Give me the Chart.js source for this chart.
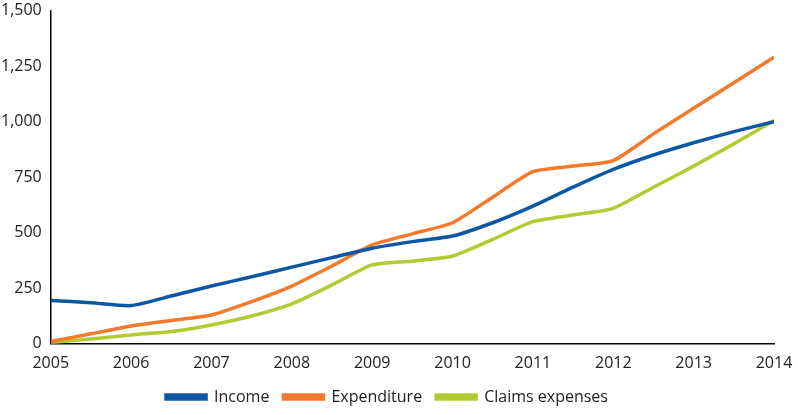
<!DOCTYPE html>
<html><head><meta charset="utf-8">
<script src="https://cdn.jsdelivr.net/npm/chart.js@4"></script>
<style>html,body{margin:0;background:#fff}#wrap{width:798px;height:415px}</style>
</head><body><div id="wrap"><canvas id="c"></canvas></div>
<script>
const YEARS = [2005,2005.5,2006,2006.5,2007,2007.5,2008,2008.5,2009,2009.5,2010,2010.5,2011,2011.5,2012,2012.5,2013,2013.5,2014];
const INCOME = [195,185,172,215,260,302,345,388,430,460,485,545,620,705,785,850,905,955,1000];
const EXPEND = [10,45,80,105,130,190,260,350,445,495,545,660,775,800,825,945,1060,1175,1290];
const CLAIMS = [5,22,40,55,85,125,180,265,355,372,395,470,550,580,610,705,800,900,1005];
const pts = arr => arr.map((v, i) => ({ x: YEARS[i], y: v }));
const line = (label, data, color) => ({ label, data: pts(data), borderColor: color, backgroundColor: color, borderWidth: 3.5, pointRadius: 0, tension: 0.2, fill: false });
Chart.defaults.font.family = "'Open Sans', sans-serif";
Chart.defaults.color = "#222";
new Chart(document.getElementById("c"), {
  type: "line",
  data: { datasets: [
    line("Income", INCOME, "#0d57a3"),
    line("Expenditure", EXPEND, "#f37a2b"),
    line("Claims expenses", CLAIMS, "#b3ca32")
  ]},
  options: {
    responsive: true, maintainAspectRatio: false, animation: false,
    layout: { padding: { top: 8, right: 24, left: 0, bottom: 0 } },
    plugins: {
      legend: { position: "bottom", labels: { boxWidth: 40, boxHeight: 4, padding: 14, font: { size: 16 } } },
      tooltip: { enabled: false }
    },
    scales: {
      x: { type: "linear", min: 2005, max: 2014, grid: { display: false }, border: { color: "#000", width: 1.5 },
           ticks: { stepSize: 1, font: { size: 16 }, padding: 2, callback: v => String(v) } },
      y: { min: 0, max: 1500, grid: { display: false }, border: { color: "#000", width: 1.5 },
           ticks: { stepSize: 250, font: { size: 16 }, padding: 1, callback: v => v.toLocaleString("en-US") } }
    }
  }
});
</script></body></html>
